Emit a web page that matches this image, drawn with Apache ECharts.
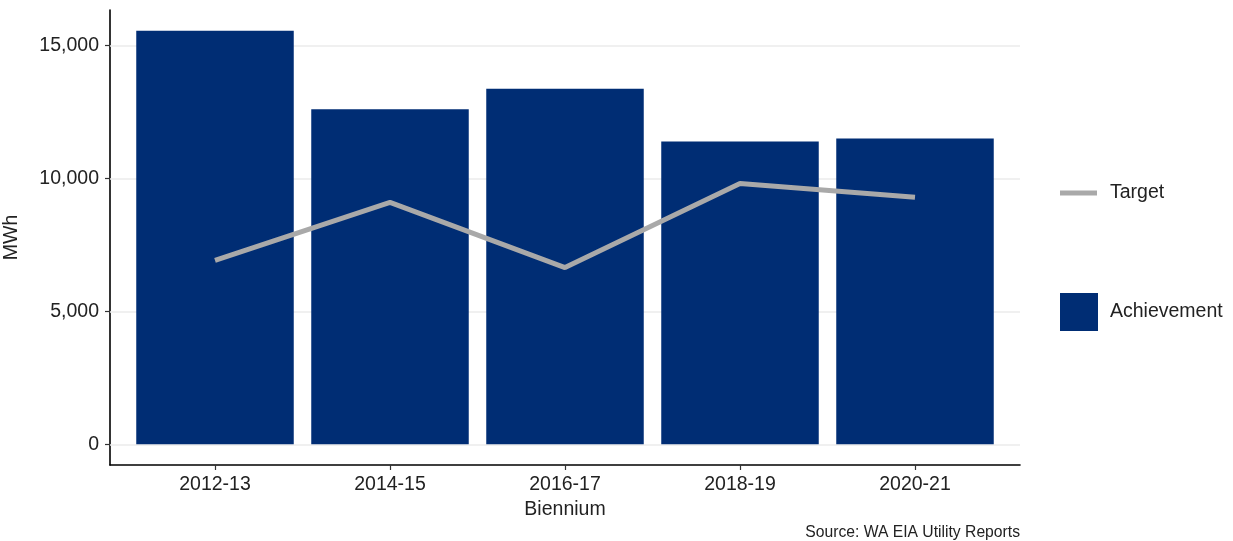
<!DOCTYPE html>
<html>
<head>
<meta charset="utf-8">
<script src="https://cdn.jsdelivr.net/npm/echarts@6/dist/echarts.min.js"></script>
<style>
  html, body { margin: 0; padding: 0; background: #fff; }
  #chart { width: 1233px; height: 541px; }
</style>
</head>
<body>
<div id="chart"></div>
<script>
// Biennium categories
const categories = ['2012-13', '2014-15', '2016-17', '2018-19', '2020-21'];
// Achieved savings (MWh)
const achievement = [15560, 12600, 13380, 11390, 11500];
// Target savings (MWh)
const target = [6920, 9100, 6650, 9810, 9290];
// Y-axis tick values
const yTicks = [0, 5000, 10000, 15000];

const FONT = '"Liberation Sans", Arial, sans-serif';
const TEXT = '#222';
const BAR = '#002D74';
const LINE = '#A9A9A9';

const chart = echarts.init(document.getElementById('chart'), null, { renderer: 'canvas' });

const gridLeft = 110, gridRight = 213;
const plotWidth = 1233 - gridLeft - gridRight;
// discrete axis padded by 0.6 of a band on each side, bars fill 90% of a band
const xMin = 0.4, xMax = categories.length + 0.6;
const barW = plotWidth / (xMax - xMin) * 0.9;

// y range padded 5% of the data span on each side
const yMax0 = Math.max(...achievement);
const yMin = -0.05 * yMax0, yMax = yMax0 * 1.05;

const xPos = categories.map((c, i) => i + 1);

chart.setOption({
  animation: false,
  backgroundColor: '#fff',
  textStyle: { fontFamily: FONT },
  grid: { left: gridLeft, right: gridRight, top: 10, bottom: 76, outerBoundsMode: 'none', containLabel: false },
  xAxis: {
    type: 'value',
    min: xMin,
    max: xMax,
    name: 'Biennium',
    nameLocation: 'middle',
    nameGap: 31,
    nameTextStyle: { fontSize: 19.5, color: TEXT, fontFamily: FONT },
    axisLine: { show: true, onZero: false, lineStyle: { color: '#000', width: 1.6 } },
    axisTick: { show: true, customValues: xPos, length: 5, lineStyle: { color: '#333', width: 1.2 } },
    axisLabel: {
      customValues: xPos,
      margin: 10,
      fontSize: 19.5,
      color: TEXT,
      fontFamily: FONT,
      formatter: v => categories[Math.round(v) - 1]
    },
    splitLine: { show: false }
  },
  yAxis: {
    type: 'value',
    min: yMin,
    max: yMax,
    name: 'MWh',
    nameLocation: 'middle',
    nameGap: 88,
    nameRotate: 90,
    nameTextStyle: { fontSize: 19.5, color: TEXT, fontFamily: FONT },
    axisLine: { show: true, onZero: false, lineStyle: { color: '#000', width: 1.6 } },
    axisTick: { show: true, customValues: yTicks, length: 5, lineStyle: { color: '#333', width: 1.2 } },
    axisLabel: {
      customValues: yTicks,
      margin: 11,
      fontSize: 19.5,
      color: TEXT,
      fontFamily: FONT,
      formatter: v => Math.round(v).toLocaleString('en-US')
    },
    splitLine: { show: false }
  },
  legend: [
    {
      data: [{ name: 'Target', icon: 'rect' }],
      orient: 'vertical',
      left: 1060,
      top: 183,
      padding: 0,
      itemWidth: 37,
      itemHeight: 5,
      textStyle: { fontSize: 19.5, color: TEXT, fontFamily: FONT, padding: [0, 0, 0, 8] }
    },
    {
      data: [{ name: 'Achievement', icon: 'rect' }],
      orient: 'vertical',
      left: 1060,
      top: 293,
      padding: 0,
      itemWidth: 38,
      itemHeight: 38,
      textStyle: { fontSize: 19.5, color: TEXT, fontFamily: FONT, padding: [0, 0, 0, 7] }
    }
  ],
  graphic: [
    {
      type: 'text',
      right: 213,
      top: 525,
      style: {
        text: 'Source: WA EIA Utility Reports',
        fontSize: 15.7,
        fontFamily: FONT,
        fill: TEXT
      }
    }
  ],
  series: [
    {
      // horizontal reference lines behind the bars
      name: 'grid',
      type: 'line',
      data: [],
      z: 1,
      silent: true,
      markLine: {
        z: 1,
        silent: true,
        symbol: ['none', 'none'],
        label: { show: false },
        lineStyle: { color: '#EBEBEB', type: 'solid', width: 1.6 },
        data: yTicks.map(v => ({ yAxis: v }))
      }
    },
    {
      name: 'Achievement',
      type: 'bar',
      z: 2,
      barWidth: barW,
      itemStyle: { color: BAR },
      data: achievement.map((v, i) => [xPos[i], v])
    },
    {
      name: 'Target',
      type: 'line',
      z: 3,
      symbol: 'none',
      lineStyle: { color: LINE, width: 5, cap: 'butt' },
      itemStyle: { color: LINE },
      data: target.map((v, i) => [xPos[i], v])
    }
  ]
});
</script>
</body>
</html>
